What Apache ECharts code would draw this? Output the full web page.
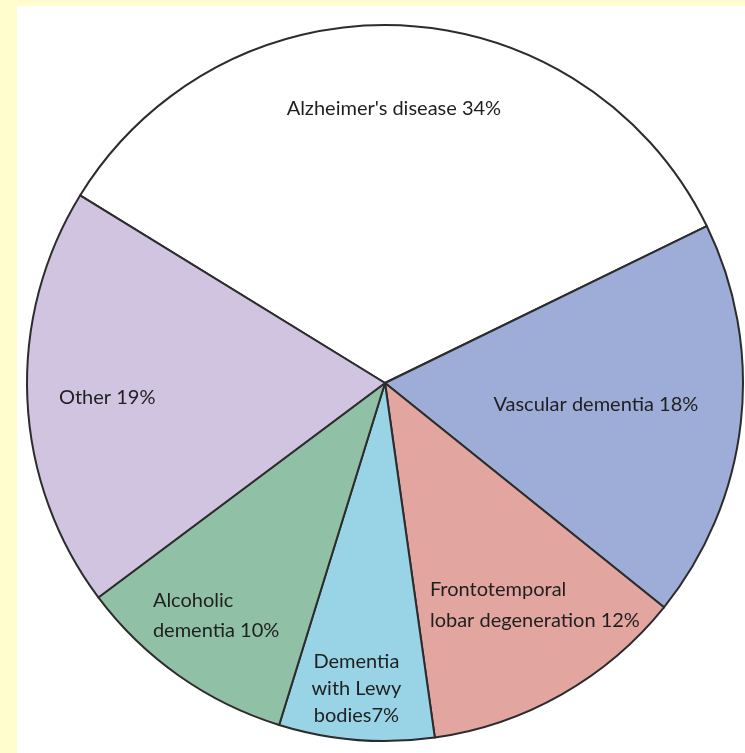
<!DOCTYPE html>
<html>
<head>
<meta charset="utf-8">
<script src="https://cdn.jsdelivr.net/npm/echarts@6/dist/echarts.min.js"></script>
<style>
  html, body { margin: 0; padding: 0; width: 745px; height: 753px; overflow: hidden; background: #fffdcd; }
  #panel { position: absolute; left: 17px; top: 6px; width: 728px; height: 747px; background: #ffffff; }
  #chart { width: 100%; height: 100%; }
</style>
</head>
<body>
<div id="panel"><div id="chart"></div></div>
<script>
// Causes of dementia, share of cases (%)
const categories = [
  "Alzheimer's disease",
  'Vascular dementia',
  'Frontotemporal lobar degeneration',
  'Dementia with Lewy bodies',
  'Alcoholic dementia',
  'Other'
];
const percents = [34, 18, 12, 7, 10, 19];

// Label text with line breaks; {v} is replaced by the value
const labelTemplates = [
  "Alzheimer's disease {v}%",
  'Vascular dementia {v}%',
  'Frontotemporal\nlobar degeneration {v}%',
  'Dementia\nwith Lewy\nbodies{v}%',
  'Alcoholic\ndementia {v}%',
  'Other {v}%'
];

const sliceColors = ['#ffffff', '#9dadd8', '#e3a59f', '#99d4e6', '#90c0a5', '#d1c4e1'];

// Label styling: left-aligned lines, line height, shift from the default inside spot
const labelLeft = [false, false, true, false, true, false];
const labelLineHeight = [24, 24, 31, 27, 30, 24];
const labelShift = [[0, -93], [30, 1], [60, 64], [-14, 124], [-64, 84], [-96, 6]];

const FONT = 'Lato, "Noto Sans", sans-serif';
const FONT_SIZE = 20;
const TEXT_COLOR = '#1f1f1f';

const data = categories.map((name, i) => {
  const text = labelTemplates[i].replace('{v}', percents[i]);
  const formatted = labelLeft[i]
    ? text.split('\n').map(t => '{l|' + t + '}').join('\n')
    : text;
  return {
    name: name,
    value: percents[i],
    itemStyle: { color: sliceColors[i] },
    label: {
      formatter: formatted,
      lineHeight: labelLineHeight[i],
      rich: {
        l: { align: 'left', fontFamily: FONT, fontSize: FONT_SIZE, color: TEXT_COLOR, lineHeight: labelLineHeight[i] }
      }
    }
  };
});

const chart = echarts.init(document.getElementById('chart'), null, { renderer: 'canvas' });
chart.setOption({
  animation: false,
  backgroundColor: '#ffffff',
  series: [{
    type: 'pie',
    center: [368, 377],
    radius: 358,
    startAngle: 148.4,
    clockwise: true,
    avoidLabelOverlap: false,
    silent: true,
    itemStyle: { borderColor: '#2c2c2c', borderWidth: 2 },
    label: {
      show: true,
      position: 'inside',
      fontFamily: FONT,
      fontSize: FONT_SIZE,
      color: TEXT_COLOR
    },
    labelLine: { show: false },
    labelLayout: function (p) {
      const s = labelShift[p.dataIndex];
      return { dx: s[0], dy: s[1] };
    },
    data: data
  }]
});
</script>
</body>
</html>
